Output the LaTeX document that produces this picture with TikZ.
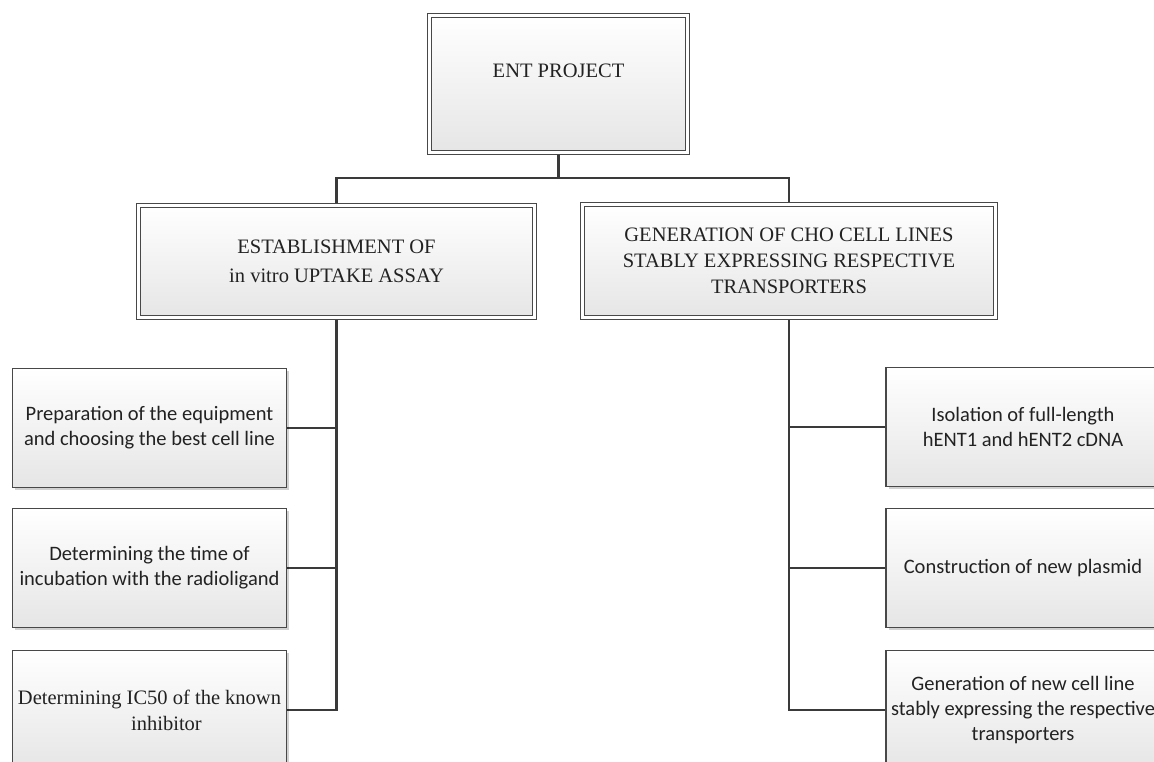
\documentclass[tikz,border=0pt]{standalone}
\usepackage{fontspec}
\setmainfont{Liberation Serif}
\newfontfamily\carlito{Carlito}
\usetikzlibrary{shadows,calc}
\pgfdeclarelayer{background}
\pgfsetlayers{background,main}
\definecolor{linegray}{HTML}{3A3A3A}
\definecolor{boxline}{HTML}{484848}
\definecolor{inkgray}{HTML}{222222}
\tikzset{
  basebox/.style={draw=boxline, top color=white, bottom color=black!10,
    drop shadow={shadow xshift=2.5pt, shadow yshift=-2.5pt, fill=black, opacity=0.18},
    inner sep=0pt, text=inkgray},
  headbox/.style={basebox, line width=1.2pt, double=white, double distance=2.6pt,
    font=\fontsize{20.5}{26}\selectfont, align=center},
  taskbox/.style={basebox, line width=1.3pt, minimum width=274pt, minimum height=119pt,
    align=center},
  sanstext/.style={font=\carlito\fontsize{20.5}{25}\selectfont},
  serifsmall/.style={font=\fontsize{20.5}{26}\selectfont},
  link/.style={draw=linegray, line width=2.2pt}
}
\begin{document}
\begin{tikzpicture}[x=1pt, y=-1pt]
\useasboundingbox (0,0) rectangle (1154,762);
\clip (0,0) rectangle (1154,762);

% project root
\node[headbox, minimum width=258.5pt, minimum height=137.5pt] (top) at (558.5,84) {};
\node[anchor=base, text=inkgray, font=\fontsize{20.5}{26}\selectfont] (toptext) at (558.5,78) {ENT PROJECT};

% the two work packages
\node[headbox, minimum width=396.5pt, minimum height=112.5pt] (lmid) at (336.5,261.5)
  {ESTABLISHMENT OF\\[2.5pt]in vitro UPTAKE ASSAY};
\node[headbox, minimum width=413.5pt, minimum height=112.5pt] (rmid) at (789,261)
  {GENERATION OF CHO CELL LINES\\STABLY EXPRESSING RESPECTIVE\\TRANSPORTERS};

% tasks of the uptake assay
\node[taskbox, sanstext] (l1) at (149.5,428)
  {Preparation of the equipment\\and choosing the best cell line};
\node[taskbox, sanstext] (l2) at (149.5,568)
  {Determining the time of\\incubation with the radioligand};
\node[taskbox, serifsmall] (l3) at (149.5,710)
  {Determining IC50 of the known\\\hspace*{34pt}inhibitor};

% tasks of the cell line generation
\node[taskbox, sanstext] (r1) at (1023,427)
  {Isolation of full-length\\hENT1 and hENT2 cDNA};
\node[taskbox, sanstext] (r2) at (1023,568)
  {Construction of new plasmid};
\node[taskbox, sanstext] (r3) at (1023,710)
  {Generation of new cell line\\stably expressing the respective\\transporters};

% connectors, kept behind the boxes
\begin{pgfonlayer}{background}
  \coordinate (fork) at ($(top.south)+(0,25)$);
  \path[link] (top.south) -- (fork) -| (lmid.north);
  \path[link] (fork) -| (rmid.north);
  \path[link] (lmid.south) |- (l3.east);
  \path[link] (l1.east) -- (l1.east -| lmid.south);
  \path[link] (l2.east) -- (l2.east -| lmid.south);
  \path[link] (rmid.south) |- (r3.west);
  \path[link] (r1.west) -- (r1.west -| rmid.south);
  \path[link] (r2.west) -- (r2.west -| rmid.south);
\end{pgfonlayer}
\end{tikzpicture}
\end{document}
